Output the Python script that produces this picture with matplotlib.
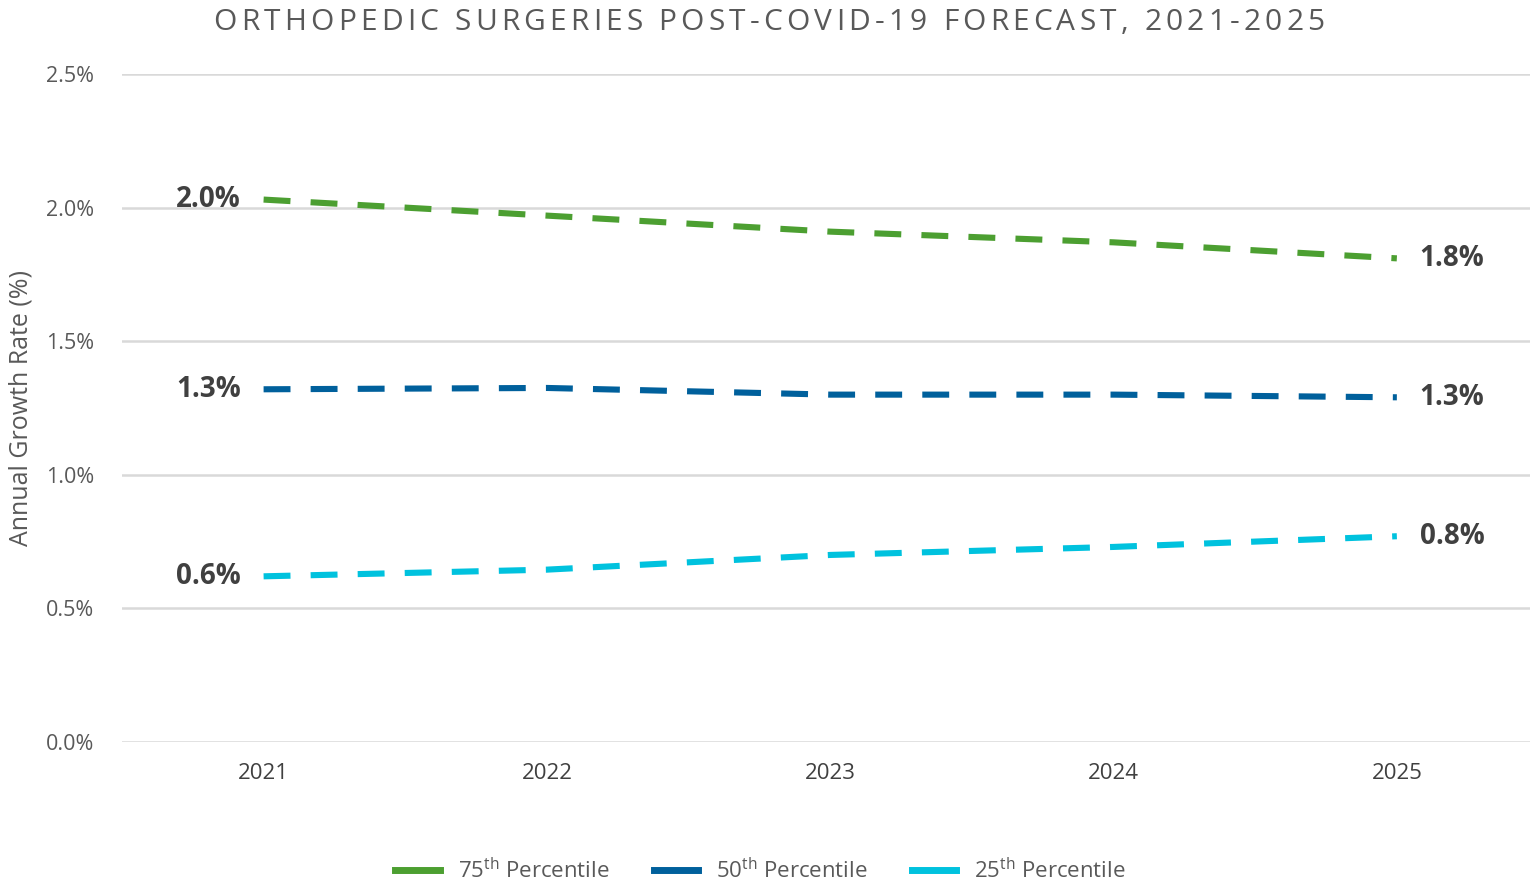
import numpy as np
import matplotlib
matplotlib.use("Agg")
import matplotlib.pyplot as plt
from matplotlib.lines import Line2D

plt.rcParams['font.family'] = ['Open Sans', 'DejaVu Sans']
plt.rcParams['mathtext.fontset'] = 'custom'
plt.rcParams['mathtext.rm'] = 'Open Sans'

years = ['2021', '2022', '2023', '2024', '2025']
p75 = [2.03, 1.97, 1.91, 1.87, 1.81]
p50 = [1.32, 1.325, 1.30, 1.30, 1.29]
p25 = [0.62, 0.645, 0.70, 0.73, 0.77]

series = [
    (p75, '#4c9f31', r'75$^{\mathrm{th}}$ Percentile'),
    (p50, '#00609c', r'50$^{\mathrm{th}}$ Percentile'),
    (p25, '#00c2de', r'25$^{\mathrm{th}}$ Percentile'),
]

title = 'ORTHOPEDIC SURGERIES POST-COVID-19 FORECAST, 2021-2025'

fig = plt.figure(figsize=(15.3, 8.83), dpi=100)
ax = fig.add_axes([0.0797, 0.1597, 0.9203, 0.7565])

x = np.arange(len(years))
handles = []
for vals, col, lab in series:
    ax.plot(x, vals, color=col, lw=4.4, dashes=(4.4, 3.3), solid_capstyle='butt',
            dash_capstyle='butt', zorder=3)
    ax.text(x[0] - 0.08, vals[0], f'{vals[0]:.1f}%', ha='right', va='center',
            fontsize=20, fontweight='bold', color='#404040')
    ax.text(x[-1] + 0.08, vals[-1], f'{vals[-1]:.1f}%', ha='left', va='center',
            fontsize=20, fontweight='bold', color='#404040')
    handles.append(Line2D([], [], color=col, lw=5, label=lab))

ax.set_xlim(-0.5, 4.47)
ax.set_ylim(0, 2.5)
ax.set_yticks([0, 0.5, 1.0, 1.5, 2.0, 2.5])
ax.set_yticklabels([f'{v:.1f}%' for v in [0, 0.5, 1.0, 1.5, 2.0, 2.5]])
ax.set_xticks(x)
ax.set_xticklabels(years)
ax.tick_params(axis='y', length=0, pad=20, labelsize=15.5, labelcolor='#595959')
ax.tick_params(axis='x', length=0, pad=15, labelsize=16, labelcolor='#404040')
ax.grid(axis='y', color='#d9d9d9', lw=1.8)
ax.set_axisbelow(True)
for s in ax.spines.values():
    s.set_visible(False)

ax.set_ylabel('Annual Growth Rate (%)', fontsize=18, color='#595959')
ax.yaxis.set_label_coords(-0.063, 0.5)

# title with extra letter spacing, placed one character at a time
renderer = fig.canvas.get_renderer()
tracking = 4.2
widths = []
for ch in title:
    t = fig.text(0, 0, ch.replace(' ', '\u00a0'), fontsize=21.5, color='#595959')
    widths.append(t.get_window_extent(renderer).width)
    t.remove()
total = sum(widths) + tracking * (len(title) - 1)
xpos = 769 - total / 2
for ch, w in zip(title, widths):
    fig.text(xpos / 1530, 0.975, ch, ha='left', va='center', fontsize=21.5,
             color='#595959')
    xpos += w + tracking

fig.legend(handles=handles, loc='center', bbox_to_anchor=(0.497, 0.014), ncol=3,
           frameon=False, fontsize=16, handlelength=2.0, columnspacing=2.0,
           handletextpad=0.8, labelcolor='#595959')

fig.savefig('out.png', dpi=100)
